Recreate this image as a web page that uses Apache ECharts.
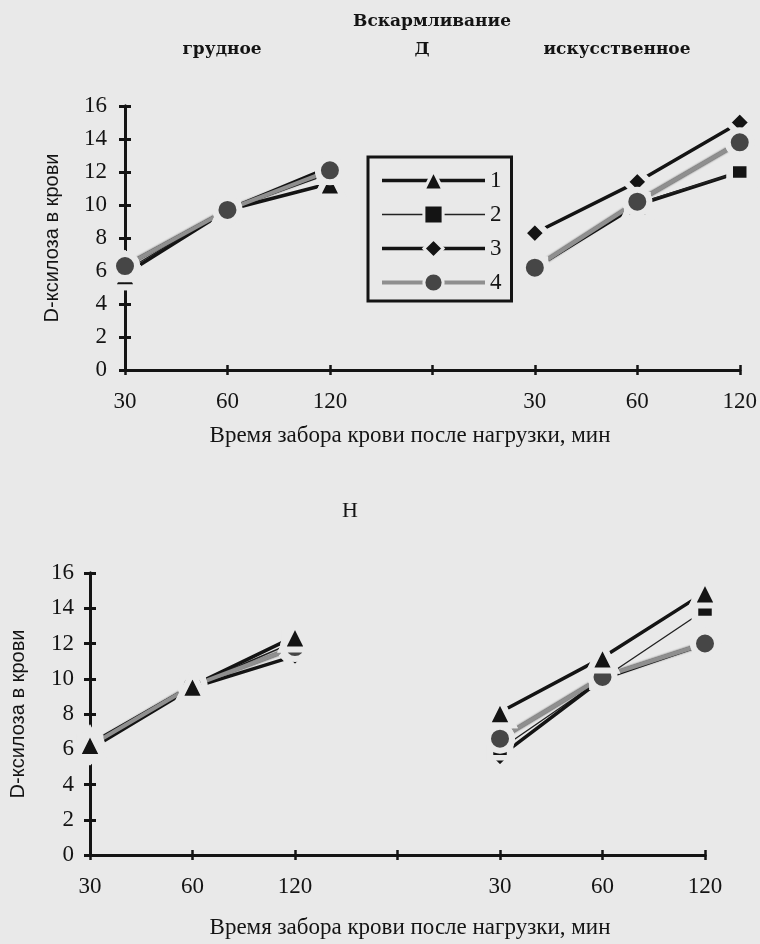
<!DOCTYPE html>
<html>
<head>
<meta charset="utf-8">
<script src="https://cdn.jsdelivr.net/npm/echarts@6/dist/echarts.min.js"></script>
<style>
  html, body { margin: 0; padding: 0; background: #e9e9e9; }
  #chart { width: 760px; height: 944px; }
</style>
</head>
<body>
<div id="chart"></div>
<script>
// Sampling times (min); the empty slot separates breast- and formula-fed groups
const times = ['30', '60', '120', '', '30', '60', '120'];
const seriesNames = ['1', '2', '3', '4'];

// Panel "Д": D-xylose in blood
const d1 = [5.8, 9.7, 11.3, null, 6.2, 10.0, 12.0];
const d2 = [6.0, 9.7, 11.9, null, 6.2, 10.1, 12.0];
const d3 = [6.3, 9.7, 12.3, null, 8.3, 11.4, 15.0];
const d4 = [6.3, 9.7, 12.1, null, 6.2, 10.2, 13.8];

// Panel "Н"
const h1 = [6.3, 9.6, 12.4, null, 8.1, 11.2, 14.9];
const h2 = [6.2, 9.6, 12.1, null, 6.0, 10.0, 13.9];
const h3 = [6.0, 9.5, 11.3, null, 5.6, 10.0, 12.0];
const h4 = [6.2, 9.6, 11.8, null, 6.6, 10.1, 12.0];

const BG = '#e9e9e9';
const INK = '#141414';
const serif = 'Liberation Serif';
const sans = 'Liberation Sans';
const RIM = 6;

const styles = [
  { symbol: 'triangle', size: 26, color: INK, line: { color: INK, width: 3.5 } },
  { symbol: 'rect', size: [20, 17], color: INK, line: { color: '#222', width: 1.4 } },
  { symbol: 'diamond', size: 24, color: INK, line: { color: INK, width: 3.5 } },
  { symbol: 'circle', size: 24, color: '#464646',
    line: { color: '#8f8f8f', width: 4, shadowColor: 'rgba(20,20,20,0.9)', shadowBlur: 2 } }
];

// Lines sit underneath; markers are drawn afterwards with a background-coloured rim,
// which leaves the small gap between each line end and its marker.
function makeSeries(values, gridIdx, markerZ) {
  const lines = values.map((vals, i) => ({
    name: seriesNames[i],
    type: 'line',
    xAxisIndex: gridIdx * 2,
    yAxisIndex: gridIdx * 2,
    data: vals,
    connectNulls: false,
    symbol: styles[i].symbol,
    symbolSize: styles[i].size,
    showSymbol: true,
    itemStyle: { color: styles[i].color, borderColor: BG, borderWidth: RIM },
    lineStyle: styles[i].line,
    emphasis: { disabled: true },
    z: 2
  }));
  const marks = values.map((vals, i) => ({
    name: seriesNames[i],
    type: 'scatter',
    xAxisIndex: gridIdx * 2,
    yAxisIndex: gridIdx * 2,
    data: vals,
    symbol: styles[i].symbol,
    symbolSize: styles[i].size,
    itemStyle: { color: styles[i].color, borderColor: BG, borderWidth: RIM, opacity: 1 },
    emphasis: { disabled: true },
    z: markerZ[i]
  }));
  return lines.concat(marks);
}

function xAxes(gridIdx, margin) {
  const base = {
    type: 'category', data: times, boundaryGap: false, gridIndex: gridIdx, position: 'bottom',
    axisLine: { show: true, lineStyle: { color: INK, width: 3 } },
    splitLine: { show: false }
  };
  return [
    Object.assign({}, base, {
      axisTick: { show: true, length: 5, lineStyle: { color: INK, width: 2.5 } },
      axisLabel: { fontFamily: serif, fontSize: 23, color: INK, margin: margin }
    }),
    Object.assign({}, base, {
      axisTick: { show: true, inside: true, length: 5, lineStyle: { color: INK, width: 2.5 } },
      axisLabel: { show: false }
    })
  ];
}

function yAxes(gridIdx, nameGap, margin) {
  const base = {
    type: 'value', min: 0, max: 16, interval: 2, gridIndex: gridIdx, position: 'left',
    axisLine: { show: true, lineStyle: { color: INK, width: 3 } },
    splitLine: { show: false }
  };
  return [
    Object.assign({}, base, {
      name: 'D-ксилоза в крови', nameLocation: 'middle', nameGap: nameGap, nameRotate: 90,
      nameTextStyle: { fontFamily: sans, fontSize: 20, color: INK },
      axisTick: { show: true, length: 6, lineStyle: { color: INK, width: 3 } },
      axisLabel: { fontFamily: serif, fontSize: 23, color: INK, margin: margin }
    }),
    Object.assign({}, base, {
      axisTick: { show: true, inside: true, length: 6, lineStyle: { color: INK, width: 3 } },
      axisLabel: { show: false }
    })
  ];
}

function label(text, x, y, size, bold, family) {
  return {
    text: text, left: x, top: y, textAlign: 'center', textVerticalAlign: 'middle',
    textStyle: { fontFamily: family || serif, fontSize: size, fontWeight: bold ? 'bold' : 'normal', color: INK }
  };
}

// Legend entries carry their own line weights so the swatches match the plotted lines
const legendItems = seriesNames.map((n, i) => ({
  name: n,
  lineStyle: { width: styles[i].line.width, color: styles[i].line.color },
  itemStyle: { borderWidth: 3, borderColor: BG }
}));

const head = 'DejaVu Serif';
const chart = echarts.init(document.getElementById('chart'), null, { renderer: 'canvas' });
chart.setOption({
  backgroundColor: BG,
  animation: false,
  title: [
    label('Вскармливание', 427, 17, 17, true, head),
    label('грудное', 217, 45, 17, true, head),
    label('Д', 417, 45, 17, true, head),
    label('искусственное', 612, 45, 17, true, head),
    label('Время забора крови после нагрузки, мин', 405, 431, 23, false),
    label('Н', 345, 506, 22, false),
    label('Время забора крови после нагрузки, мин', 405, 923, 23, false)
  ],
  legend: {
    data: legendItems,
    orient: 'vertical',
    left: 368, top: 157,
    itemWidth: 103, itemHeight: 24, itemGap: 11,
    padding: [12, 10, 7, 12],
    borderColor: INK, borderWidth: 3,
    textStyle: { fontFamily: serif, fontSize: 23, color: INK },
    selectedMode: false
  },
  grid: [
    { left: 125, top: 106, width: 615, height: 264 },
    { left: 89, top: 573, width: 616, height: 282 }
  ],
  xAxis: [].concat(xAxes(0, 20), xAxes(1, 20)),
  yAxis: [].concat(yAxes(0, 63, 18), yAxes(1, 62, 16)),
  series: [].concat(
    makeSeries([d1, d2, d3, d4], 0, [5, 6, 7, 8]),
    makeSeries([h1, h2, h3, h4], 1, [9, 7, 6, 8])
  )
});
</script>
</body>
</html>
